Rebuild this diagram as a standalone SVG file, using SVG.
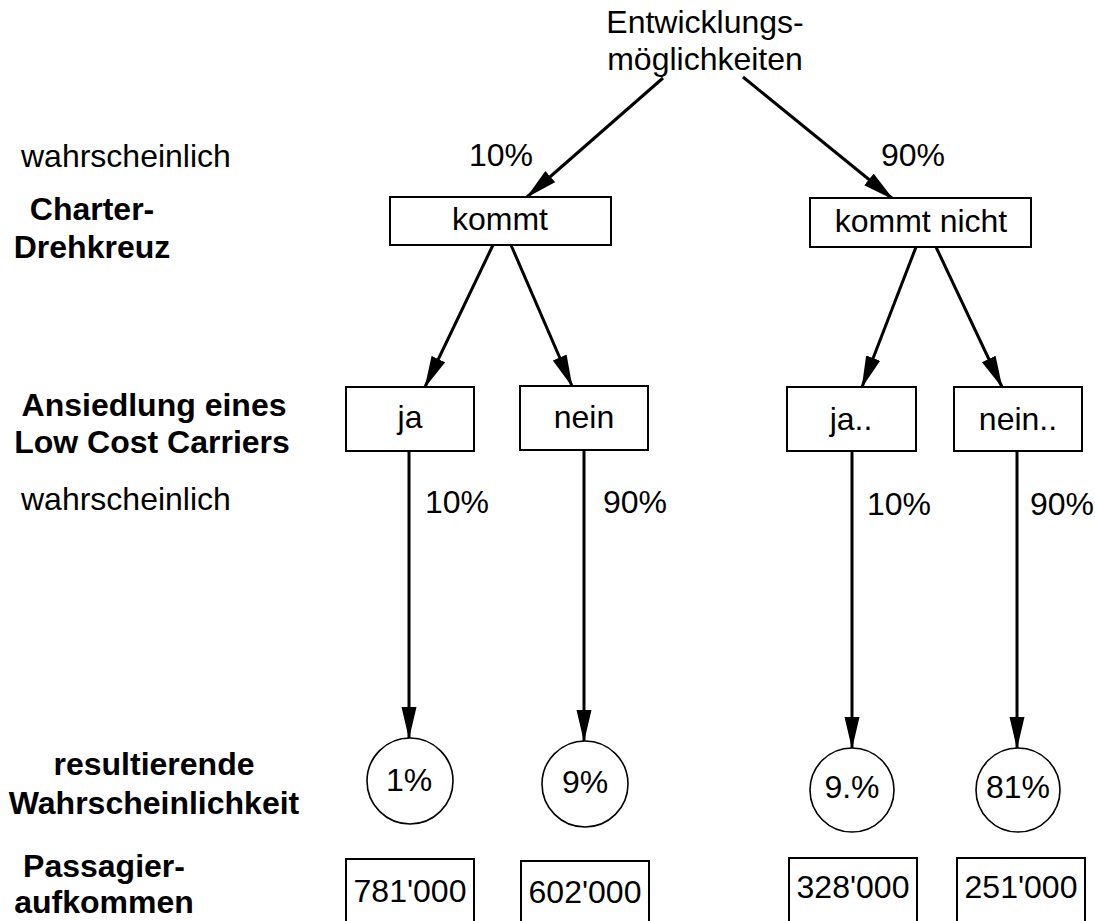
<svg xmlns="http://www.w3.org/2000/svg" width="1095" height="921" viewBox="0 0 1095 921">
<style>
text{font-family:"Liberation Sans",Arial,sans-serif;font-size:32px;fill:#000}
.b{font-weight:bold}
.c{text-anchor:middle}
.box{fill:#fff;stroke:#000;stroke-width:2}
.circ{fill:#fff;stroke:#000;stroke-width:1.6}
.con{stroke:#000;stroke-width:3;fill:none;marker-end:url(#ah)}
</style>
<defs>
<marker id="ah" markerUnits="userSpaceOnUse" markerWidth="32" markerHeight="16" refX="31" refY="7.5" orient="auto">
<path d="M0,0 L32,7.5 L0,15 z" fill="#000"/>
</marker>
</defs>
<rect width="1095" height="921" fill="#fff"/>

<g id="labels">
<text x="21" y="167">wahrscheinlich</text>
<text class="b c" x="92" y="220">Charter-</text>
<text class="b c" x="92" y="258">Drehkreuz</text>
<text class="b c" x="154" y="416">Ansiedlung eines</text>
<text class="b c" x="152" y="453">Low Cost Carriers</text>
<text x="21" y="510">wahrscheinlich</text>
<text class="b c" x="154" y="775">resultierende</text>
<text class="b c" x="154" y="814">Wahrscheinlichkeit</text>
<text class="b c" x="104" y="877">Passagier-</text>
<text class="b c" x="104" y="913">aufkommen</text>
</g>

<g id="connectors">
<line class="con" x1="663" y1="78" x2="527" y2="197"/>
<line class="con" x1="743" y1="77" x2="893" y2="199"/>
<line class="con" x1="493" y1="245" x2="425" y2="387"/>
<line class="con" x1="511" y1="245" x2="572" y2="386"/>
<line class="con" x1="916" y1="247" x2="862" y2="387"/>
<line class="con" x1="936" y1="247" x2="1002" y2="387"/>
<line class="con" x1="409" y1="451" x2="409" y2="738"/>
<line class="con" x1="584" y1="450" x2="584" y2="741"/>
<line class="con" x1="852" y1="451" x2="852" y2="748"/>
<line class="con" x1="1017" y1="451" x2="1017" y2="748"/>
<text x="501" y="166" class="c">10%</text>
<text x="913" y="166" class="c">90%</text>
<text x="425" y="513">10%</text>
<text x="603" y="513">90%</text>
<text x="867" y="515">10%</text>
<text x="1030" y="515">90%</text>
</g>

<g id="root"><text class="c" x="705" y="33">Entwicklungs-</text><text class="c" x="705" y="70">möglichkeiten</text></g>

<g id="kommt"><rect class="box" x="390" y="197" width="221" height="48"/><text class="c" x="500" y="230">kommt</text></g>
<g id="kommt-nicht"><rect class="box" x="810" y="198" width="221" height="49"/><text class="c" x="921" y="232">kommt nicht</text></g>

<g id="ja"><rect class="box" x="346" y="387" width="128" height="64"/><text class="c" x="410" y="428">ja</text></g>
<g id="nein"><rect class="box" x="520" y="386" width="128" height="64"/><text class="c" x="584" y="428">nein</text></g>
<g id="ja2"><rect class="box" x="787" y="387" width="129" height="64"/><text class="c" x="851" y="430">ja..</text></g>
<g id="nein2"><rect class="box" x="954" y="387" width="128" height="64"/><text class="c" x="1018" y="430">nein..</text></g>

<g id="p1"><circle class="circ" cx="410" cy="781" r="43"/><text class="c" x="409" y="791">1%</text></g>
<g id="p2"><circle class="circ" cx="585" cy="784" r="43"/><text class="c" x="585" y="793">9%</text></g>
<g id="p3"><circle class="circ" cx="852" cy="790" r="42"/><text class="c" x="852" y="798">9.%</text></g>
<g id="p4"><circle class="circ" cx="1018" cy="790" r="42"/><text class="c" x="1018" y="798">81%</text></g>

<g id="n1"><rect class="box" x="346" y="859" width="128" height="80"/><text class="c" x="410" y="902">781'000</text></g>
<g id="n2"><rect class="box" x="521" y="861" width="128" height="80"/><text class="c" x="585" y="903">602'000</text></g>
<g id="n3"><rect class="box" x="789" y="858" width="128" height="80"/><text class="c" x="853" y="898">328'000</text></g>
<g id="n4"><rect class="box" x="957" y="858" width="128" height="80"/><text class="c" x="1021" y="898">251'000</text></g>
</svg>
